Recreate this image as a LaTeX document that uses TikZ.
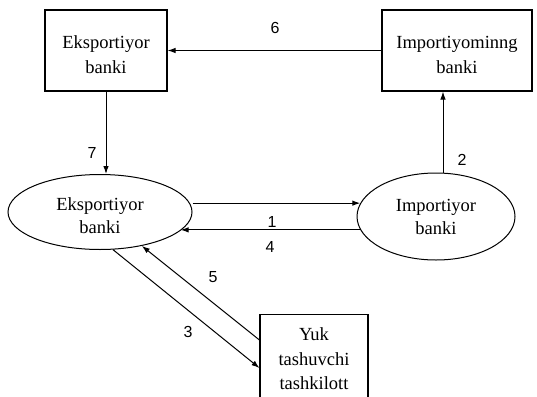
\documentclass[tikz,border=0pt]{standalone}
\usepackage{fontspec}
\setmainfont{Liberation Serif}
\newfontfamily\numfont{Liberation Sans}
\usetikzlibrary{arrows.meta,shapes.geometric}

\begin{document}
\begin{tikzpicture}[x=1pt, y=-1pt,
    bankbox/.style={draw, line width=1.1pt, inner sep=0pt, align=center,
        font=\fontsize{18.5}{24.5}\selectfont},
    bankoval/.style={draw, ellipse, line width=1pt, inner sep=0pt, align=center,
        font=\fontsize{18.5}{23}\selectfont},
    arr/.style={-{Latex[length=8pt,width=5.5pt]}, line width=1pt},
    num/.style={font=\numfont\fontsize{16}{18}\selectfont}]

    \useasboundingbox (0,0) rectangle (537,396);
    \clip (0,0) rectangle (537,396);

    % Boxes
    \node[bankbox, minimum width=122pt, minimum height=81pt, text height=46pt] (ekb) at (106,50.5) {Eksportiyor\\banki};
    \node[bankbox, minimum width=150pt, minimum height=81pt, text height=46pt] (imb) at (457,50.5) {Importiyominng\\banki};
    \node[bankbox, minimum width=108pt, anchor=north, inner ysep=13.4pt, text depth=30pt] (yuk) at (314,314) {Yuk\\tashuvchi\\tashkilott};

    % Ovals
    \node[bankoval, minimum width=184pt, minimum height=75pt, text height=43.6pt] (eki) at (100,212) {Eksportiyor\\banki};
    \node[bankoval, minimum width=158pt, minimum height=87pt] (imi) at (436,216.5) {Importiyor\\banki};

    % Arrows
    \draw[arr] (imb.west) -- (ekb.east);
    \draw[arr] (ekb.south) -- (ekb.south |- eki.north);
    \draw[arr] ([xshift=7pt]imi.north) -- ([xshift=7pt]imi.north |- imb.south);
    \draw[arr] (eki.east |- imi.170) -- (imi.170);
    \draw[arr] (imi.190) -- (imi.190 -| eki.-13.5);
    \draw[arr] (eki.-71) -- ([yshift=-54pt]yuk.north west);
    \draw[arr] ([yshift=-26pt]yuk.north west) -- (eki.-39);

    % Labels
    \node[num] (n6) at (275,28) {6};
    \node[num] (n7) at (92,153) {7};
    \node[num] (n2) at (462,160) {2};
    \node[num] (n1) at (272,222) {1};
    \node[num] (n4) at (270,247) {4};
    \node[num] (n5) at (213,277) {5};
    \node[num] (n3) at (188,332) {3};

\end{tikzpicture}
\end{document}
